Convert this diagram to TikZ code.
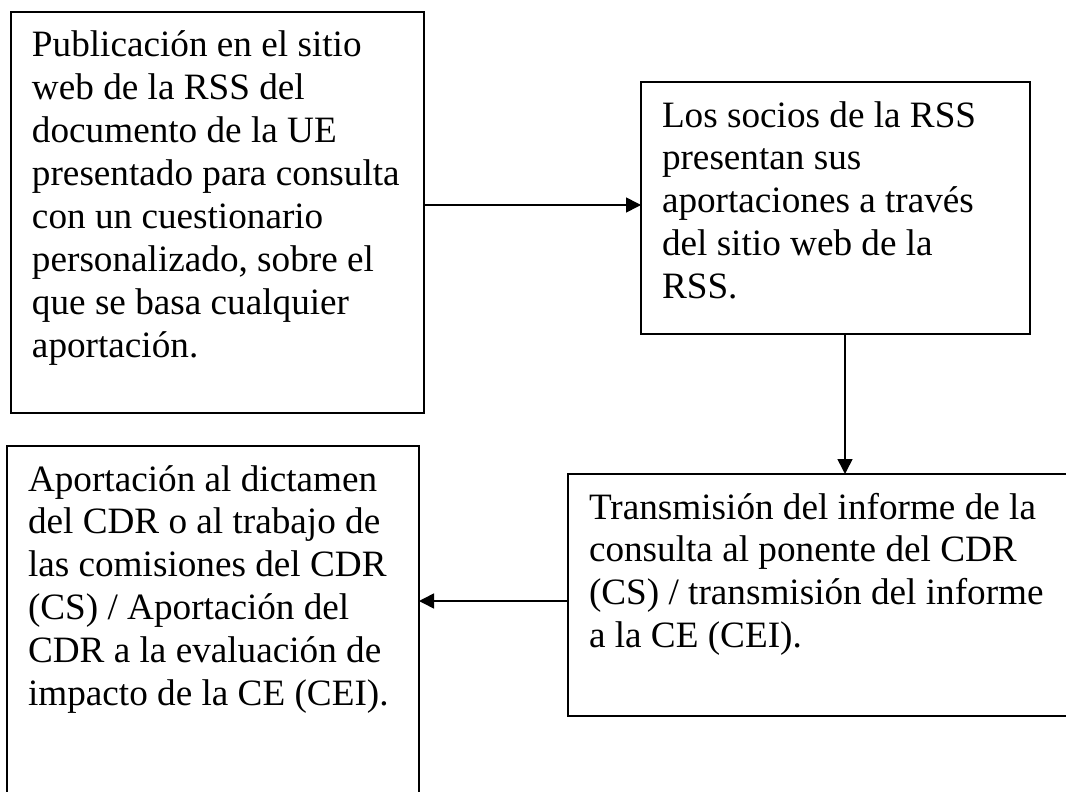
\documentclass[tikz,border=0pt]{standalone}
\usepackage{fontspec}
\setmainfont{Liberation Serif}
\usetikzlibrary{arrows.meta}

% Text im Kasten: oben links, feste Höhe
\newcommand{\kastentext}[3]{\parbox[t][#2][t]{#1}{\raggedright\rule{0pt}{22.5pt}#3}}

\tikzset{
  kasten/.style={draw, line width=1pt, anchor=north west, inner xsep=10.5pt, inner ysep=0pt, outer sep=0pt,
    font=\fontsize{18.6pt}{21.45pt}\selectfont},
  flecha/.style={line width=0.8pt, -{Triangle[length=7.5pt, width=7.5pt]}}
}

\begin{document}
\begin{tikzpicture}[x=0.5pt, y=-0.5pt]
  % Rahmen
  \clip (0,0) rectangle (1066,792);

  % Kästen
  \node[kasten] (pub) at (11,12) {\kastentext{185.5pt}{200.5pt}{Publicación en el sitio\\ web de la RSS del\\ documento de la UE\\ presentado para consulta\\ con un cuestionario\\ personalizado, sobre el\\ que se basa cualquier\\ aportación.}};
  \node[kasten] (socios) at (641,82) {\kastentext{173.5pt}{126pt}{Los socios de la RSS\\ presentan sus\\ aportaciones a través\\ del sitio web de la\\ RSS.}};
  \node[kasten] (transm) at (568,474) {\kastentext{235pt}{121pt}{Transmisión del informe de la\\ consulta al ponente del CDR\\ (CS) / transmisión del informe\\ a la CE (CEI).}};
  \node[kasten] (aport) at (7,446) {\kastentext{185pt}{177pt}{Aportación al dictamen\\ del CDR o al trabajo de\\ las comisiones del CDR\\ (CS) / Aportación del\\ CDR a la evaluación de\\ impacto de la CE (CEI).}};

  % Pfeile
  \coordinate (f1) at ([yshift=1.5pt]socios.west);
  \draw[flecha] (pub.east |- f1) -- (f1);
  \coordinate (f2) at ([xshift=4.75pt]socios.south);
  \draw[flecha] (f2) -- (f2 |- transm.north);
  \coordinate (f3) at ([yshift=-3pt]transm.west);
  \draw[flecha] (f3) -- (f3 -| aport.east);

\end{tikzpicture}
\end{document}
